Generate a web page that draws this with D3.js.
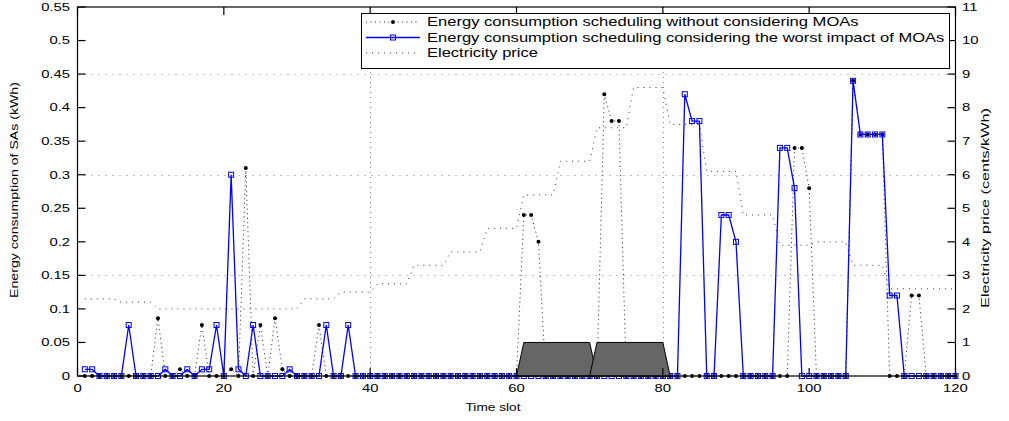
<!DOCTYPE html>
<html><head><meta charset="utf-8">
<script src="https://cdn.jsdelivr.net/npm/d3@7"></script>
<style>
html,body{margin:0;padding:0;background:#fff;}
text{font-family:"Liberation Sans",Arial,Helvetica,sans-serif;fill:#000;}
</style></head>
<body><svg id="c" width="1009" height="421"></svg>
<script>
// ---------- DATA ----------
const slots = d3.range(1, 121);
// energy consumption scheduling without considering MOAs (kWh), nonzero slots
const noMoaSlots  = [11, 14, 17, 21, 23, 25, 27, 28, 33, 61, 62, 63, 72, 73, 74, 98, 99, 100, 106, 107, 108, 109, 110, 114, 115];
const noMoaValues = [0.086, 0.01, 0.076, 0.01, 0.31, 0.076, 0.086, 0.01, 0.076, 0.24, 0.24, 0.2, 0.42, 0.38, 0.38, 0.34, 0.34, 0.28, 0.44, 0.36, 0.36, 0.36, 0.36, 0.12, 0.12];
// energy consumption scheduling considering the worst impact of MOAs (kWh), nonzero slots
const moaSlots  = [1, 2, 7, 12, 15, 17, 18, 19, 21, 22, 24, 29, 34, 37, 83, 84, 85, 88, 89, 90, 96, 97, 98, 106, 107, 108, 109, 110, 111, 112];
const moaValues = [0.01, 0.01, 0.076, 0.01, 0.01, 0.01, 0.01, 0.076, 0.3, 0.01, 0.076, 0.01, 0.076, 0.076, 0.42, 0.38, 0.38, 0.24, 0.24, 0.2, 0.34, 0.34, 0.28, 0.44, 0.36, 0.36, 0.36, 0.36, 0.12, 0.12];
// electricity price (cents/kWh), one level per 5-slot period (24 periods)
const pricePeriods = [2.3, 2.2, 2.0, 2.0, 2.0, 2.0, 2.3, 2.5, 2.75, 3.3, 3.7, 4.4, 5.4, 6.4, 7.4, 8.6, 7.5, 6.1, 4.8, 3.9, 4.0, 3.3, 2.6, 2.6];
// MOA attack intervals (trapezoid patches): [bottom start, top start, top end, bottom end]
const moaPatchX = [[60, 61, 70, 71], [70, 71, 80, 81]];
const moaPatchHeight = 0.05;
const xTicks = [0, 20, 40, 60, 80, 100, 120];
const yLeftTicks = d3.range(0, 0.5501, 0.05);
const yRightTicks = d3.range(0, 12, 1);
const gridRight = [3, 6, 9];
const gridX = [40, 80];
const legendLabels = [
  "Energy consumption scheduling without considering MOAs",
  "Energy consumption scheduling considering the worst impact of MOAs",
  "Electricity price"
];

// build series
const noMoa = slots.map(s => { const i = noMoaSlots.indexOf(s); return {x: s, y: i >= 0 ? noMoaValues[i] : 0}; });
const moa = slots.map(s => { const i = moaSlots.indexOf(s); return {x: s, y: i >= 0 ? moaValues[i] : 0}; });
const price = slots.map(s => ({x: s, y: pricePeriods[Math.floor((s - 1) / 5)]}));

// ---------- LAYOUT ----------
const L = 77.5, R = 955.5, T = 7, B = 376;
const svg = d3.select("#c");
const x = d3.scaleLinear().domain([0, 120]).range([L, R]);
const yL = d3.scaleLinear().domain([0, 0.55]).range([B, T]);
const yR = d3.scaleLinear().domain([0, 11]).range([B, T]);

function fitText(sel, target) {
  sel.each(function () {
    const len = this.getComputedTextLength();
    const t = d3.select(this).attr("transform") || "";
    d3.select(this).attr("transform", t + ` scale(${target / len},1)`);
  });
}
function label(g, px, py, str, o) {
  const t = g.append("text")
    .attr("transform", `translate(${px},${py})` + (o.rot ? ` rotate(${o.rot})` : ""))
    .attr("text-anchor", o.anchor || "middle")
    .attr("dominant-baseline", "central")
    .style("font-size", (o.size || 11) + "px")
    .text(str);
  if (o.len) fitText(t, o.len); else if (o.sx) t.attr("transform", t.attr("transform") + ` scale(${o.sx},1)`);
  return t;
}

// grid
const grid = svg.append("g").attr("stroke", "#8a8a8a").attr("stroke-width", 1).attr("fill", "none");
gridRight.forEach(v => grid.append("line").attr("x1", L).attr("x2", R).attr("y1", Math.round(yR(v)) + 0.5).attr("y2", Math.round(yR(v)) + 0.5).attr("stroke-dasharray", "1,6"));
gridX.forEach(v => grid.append("line").attr("x1", Math.round(x(v)) + 0.5).attr("x2", Math.round(x(v)) + 0.5).attr("y1", T).attr("y2", B).attr("stroke-dasharray", "1,4"));

// price line
svg.append("path").datum(price)
  .attr("fill", "none").attr("stroke", "#333").attr("stroke-width", 1).attr("stroke-dasharray", "1,5")
  .attr("d", d3.line().x(d => x(d.x)).y(d => yR(d.y)));

// without MOAs: dotted with dot markers
svg.append("path").datum(noMoa)
  .attr("fill", "none").attr("stroke", "#222").attr("stroke-width", 1).attr("stroke-dasharray", "1,3.5")
  .attr("d", d3.line().x(d => x(d.x)).y(d => yL(d.y)));
svg.append("g").selectAll("circle").data(noMoa).join("circle")
  .attr("cx", d => x(d.x)).attr("cy", d => yL(d.y)).attr("r", 2).attr("fill", "#000");

// with MOAs: blue solid with squares
svg.append("path").datum(moa)
  .attr("fill", "none").attr("stroke", "#0000ff").attr("stroke-width", 1.3)
  .attr("d", d3.line().x(d => x(d.x)).y(d => yL(d.y)));
svg.append("g").selectAll("rect").data(moa).join("rect")
  .attr("x", d => x(d.x) - 2.5).attr("y", d => yL(d.y) - 2.5).attr("width", 5).attr("height", 5)
  .attr("fill", "none").attr("stroke", "#0000ff").attr("stroke-width", 1);

// MOA patches
svg.append("g").selectAll("path").data(moaPatchX).join("path")
  .attr("fill", "#666").attr("stroke", "#000").attr("stroke-width", 1)
  .attr("d", d => d3.line()([[x(d[0]), yL(0)], [x(d[1]), yL(moaPatchHeight)], [x(d[2]), yL(moaPatchHeight)], [x(d[3]), yL(0)]]) + "Z");

// axes box + ticks
const ax = svg.append("g").attr("stroke", "#000").attr("stroke-width", 1.2).attr("fill", "none");
ax.append("rect").attr("x", L).attr("y", T).attr("width", R - L).attr("height", B - T);
yLeftTicks.forEach(v => ax.append("line").attr("x1", L).attr("x2", L + 8).attr("y1", yL(v)).attr("y2", yL(v)));
yRightTicks.forEach(v => ax.append("line").attr("x1", R - 8).attr("x2", R).attr("y1", yR(v)).attr("y2", yR(v)));
xTicks.forEach(v => {
  ax.append("line").attr("x1", x(v)).attr("x2", x(v)).attr("y1", B).attr("y2", B - 8);
  ax.append("line").attr("x1", x(v)).attr("x2", x(v)).attr("y1", T).attr("y2", T + 8);
});

// tick labels
const tg = svg.append("g");
yLeftTicks.forEach(v => label(tg, 70, yL(v), d3.format("")(+v.toFixed(2)), {anchor: "end", size: 11, sx: 1.35}));
yRightTicks.forEach(v => label(tg, 962, yR(v), String(v), {anchor: "start", size: 11, sx: 1.35}));
xTicks.forEach(v => label(tg, x(v), 388, String(v), {size: 11, sx: 1.35}));

// axis titles
label(svg, 493, 407, "Time slot", {size: 11, len: 55});
label(svg, 15, 190, "Energy consumption of SAs (kWh)", {size: 10.5, rot: -90, len: 216});
label(svg, 986, 208, "Electricity price (cents/kWh)", {size: 10.5, rot: -90, len: 200});

// legend
const lg = svg.append("g");
lg.append("rect").attr("x", 361.5).attr("y", 13.5).attr("width", 588).attr("height", 55)
  .attr("fill", "#fff").attr("stroke", "#000").attr("stroke-width", 1);
const rowsY = [22, 37.5, 53];
const lens = [432, 518, 111];
// row 1
lg.append("line").attr("x1", 366).attr("x2", 420).attr("y1", rowsY[0]).attr("y2", rowsY[0])
  .attr("stroke", "#222").attr("stroke-dasharray", "1,3.5");
lg.append("circle").attr("cx", 393).attr("cy", rowsY[0]).attr("r", 2).attr("fill", "#000");
// row 2
lg.append("line").attr("x1", 366).attr("x2", 420).attr("y1", rowsY[1]).attr("y2", rowsY[1])
  .attr("stroke", "#0000ff").attr("stroke-width", 1.3);
lg.append("rect").attr("x", 390.5).attr("y", rowsY[1] - 2.5).attr("width", 5).attr("height", 5)
  .attr("fill", "none").attr("stroke", "#0000ff");
// row 3
lg.append("line").attr("x1", 366).attr("x2", 420).attr("y1", rowsY[2]).attr("y2", rowsY[2])
  .attr("stroke", "#333").attr("stroke-dasharray", "1,5");
legendLabels.forEach((s, i) => label(lg, 427, rowsY[i], s, {anchor: "start", size: 12, len: lens[i]}));
</script></body></html>
